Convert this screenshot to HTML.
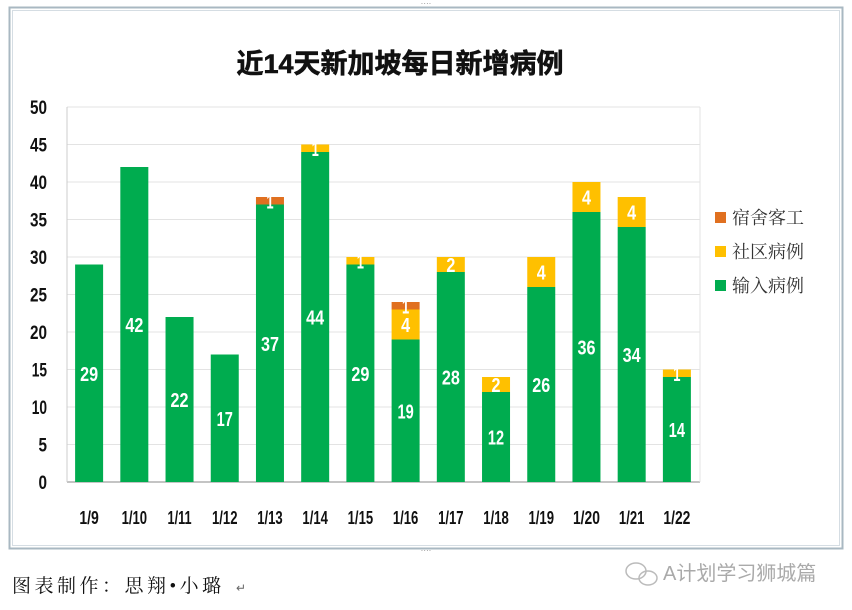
<!DOCTYPE html>
<html><head><meta charset="utf-8">
<style>
body{margin:0;width:852px;height:610px;background:#fff;overflow:hidden;font-family:"Liberation Sans","Noto Sans CJK SC",sans-serif;}
svg{position:absolute;left:0;top:0}
</style></head>
<body>
<svg width="852" height="610">
  <rect x="9.5" y="7.5" width="833" height="541" fill="#fff" stroke="#a9b8c2" stroke-width="2"/>
  <rect x="12.5" y="10.5" width="827" height="535" fill="none" stroke="#d5dde3" stroke-width="1"/>
  <text x="426" y="6" font-size="8" fill="#888" text-anchor="middle">····</text>
  <text x="426" y="553" font-size="8" fill="#888" text-anchor="middle">····</text>
  <text x="400" y="73" font-size="27" font-weight="bold" text-anchor="middle" fill="#111" stroke="#111" stroke-width="0.6" font-family="'Liberation Sans','Noto Sans CJK SC',sans-serif">近14天新加坡每日新增病例</text>
  <g id="grid"></g>
  <g id="bars"></g>
  <g id="legend"></g>
  <text x="12" y="592" font-size="19" letter-spacing="3.5" fill="#111" font-family="'Liberation Serif','Noto Serif CJK SC',serif">图表制作：思翔•小璐</text>
  <text x="236" y="592" font-size="12" fill="#666">↵</text>
  <g>
    <ellipse cx="636" cy="571" rx="10" ry="8" fill="none" stroke="#bbb" stroke-width="1.5"/>
    <ellipse cx="648" cy="578" rx="9" ry="7" fill="none" stroke="#bbb" stroke-width="1.5"/>
    <text x="663" y="580" font-size="20" fill="#aaa" font-family="'Liberation Sans','Noto Sans CJK SC',sans-serif">A计划学习狮城篇</text>
  </g>
</svg>
<script>
const categories=["1/9","1/10","1/11","1/12","1/13","1/14","1/15","1/16","1/17","1/18","1/19","1/20","1/21","1/22"];
const imported=[29,42,22,17,37,44,29,19,28,12,26,36,34,14];
const community=[0,0,0,0,0,1,1,4,2,2,4,4,4,1];
const dorm=[0,0,0,0,1,0,0,1,0,0,0,0,0,0];
const yTicks=[0,5,10,15,20,25,30,35,40,45,50];
const seriesNames=["宿舍客工","社区病例","输入病例"];
const colors={dorm:"#e07020",community:"#ffc000",imported:"#00ac4f"};
const NS="http://www.w3.org/2000/svg";
const X0=67,X1=700,Y0=482,Y1=107,YMAX=50;
const step=(X1-X0)/categories.length, bw=28;
function y(v){return Y0-(v/YMAX)*(Y0-Y1);}
function xc(i){return X0+step*(i+0.5)-0.5;}
function mk(tag,attrs,parent){const e=document.createElementNS(NS,tag);for(const k in attrs)e.setAttribute(k,attrs[k]);parent.appendChild(e);return e;}
function narrow(t,perChar){const s=String(t.textContent);let w=0;for(const ch of s)w+=(ch==='1'||ch==='/')?perChar*0.8:perChar;t.setAttribute('textLength',w);t.setAttribute('lengthAdjust','spacingAndGlyphs');}
const grid=document.getElementById('grid'),bars=document.getElementById('bars'),leg=document.getElementById('legend');
yTicks.forEach(t=>{
  const l=mk('line',{x1:X0,x2:X1,y1:y(t),y2:y(t),stroke:t===0?'#888':'#e3e3e3','stroke-width':1},grid);
  
  
  const tx=mk('text',{x:47,y:y(t)+7,'font-size':19,'font-weight':'bold','text-anchor':'end',fill:'#111'},grid);
  tx.textContent=t;
  narrow(tx,8.5);
  
  
});
mk('line',{x1:X0,x2:X0,y1:Y1,y2:Y0,stroke:'#ccc'},grid);
mk('line',{x1:X1,x2:X1,y1:Y1,y2:Y0,stroke:'#e3e3e3'},grid);
categories.forEach((c,i)=>{
  const cx=xc(i);
  const segs=[[imported[i],colors.imported,'imported'],[community[i],colors.community,'community'],[dorm[i],colors.dorm,'dorm']];
  let base=0;
  segs.forEach(([v,col,nm])=>{
    if(v<=0)return;
    const r=mk('rect',{x:cx-bw/2,y:y(base+v),width:bw,height:y(base)-y(base+v),fill:col},bars);
    
    
    const t=mk('text',{x:cx,y:(y(base)+y(base+v))/2+7.5,'font-size':20,'font-weight':'bold','text-anchor':'middle',fill:'#fff'},bars);
    t.textContent=v;
    narrow(t,9);
    
    
    base+=v;
  });
  const xl=mk('text',{x:cx,y:524,'font-size':18,'font-weight':'bold','text-anchor':'middle',fill:'#111'},bars);
  xl.textContent=c;
  narrow(xl,7.5);
  
  
});
const lc=[colors.dorm,colors.community,colors.imported];
seriesNames.forEach((n,i)=>{
  const yy=218+i*34;
  const r=mk('rect',{x:715,y:yy-6,width:11,height:11,fill:lc[i]},leg);
  
  
  const t=mk('text',{x:732,y:yy+6,'font-size':18,fill:'#333','font-family':"'Liberation Serif','Noto Serif CJK SC',serif"},leg);
  t.textContent=n;
  
  
});
</script>
</body></html>
